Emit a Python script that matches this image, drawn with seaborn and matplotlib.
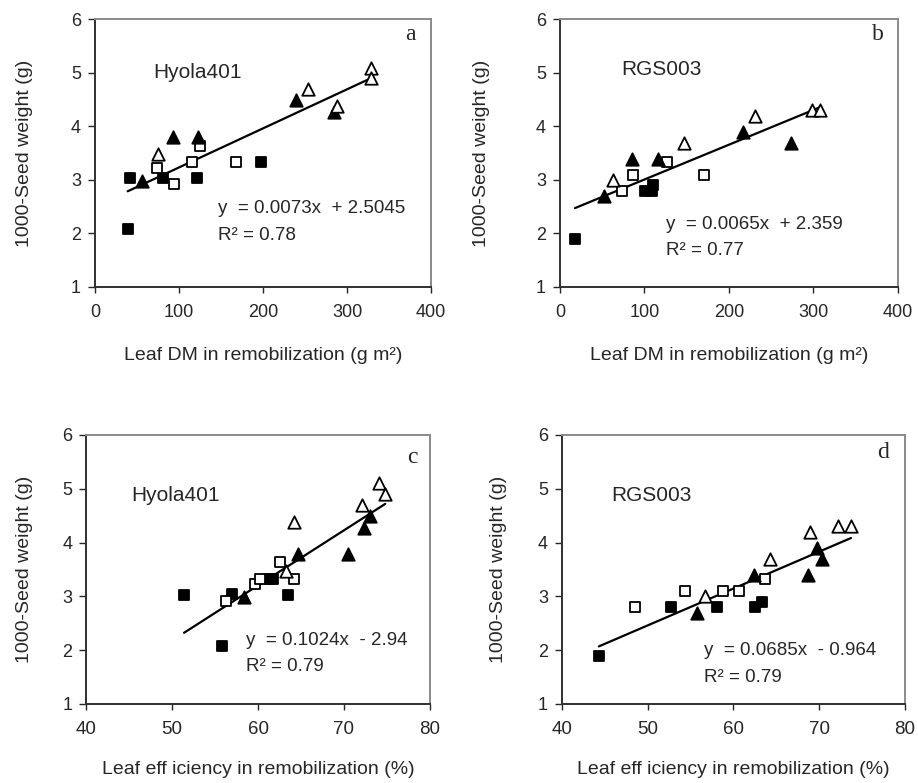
import matplotlib
matplotlib.use('Agg')
import matplotlib.pyplot as plt
import seaborn as sns
import pandas as pd

# point kinds: fs = filled square, os = open square, ft = filled triangle, ot = open triangle
# panel a: Hyola401, leaf DM in remobilization
a_x = [38.9, 41.7, 81.3, 122, 197.6,
       74.2, 94.4, 115, 125, 167.5,
       55.6, 93.3, 123, 239, 284.5,
       75.4, 254, 288, 328, 328.6]
a_y = [2.08, 3.03, 3.03, 3.03, 3.33,
       3.23, 2.92, 3.33, 3.63, 3.33,
       2.98, 3.8, 3.8, 4.5, 4.28,
       3.49, 4.7, 4.39, 5.1, 4.9]
a_kind = ['fs'] * 5 + ['os'] * 5 + ['ft'] * 5 + ['ot'] * 5

# panel b: RGS003, leaf DM in remobilization
b_x = [17.8, 100.6, 108.5, 109.7,
       73.8, 86, 127, 170.8,
       52, 84.8, 116.4, 217, 273,
       62.3, 147, 231, 298, 307.7]
b_y = [1.9, 2.8, 2.8, 2.9,
       2.8, 3.1, 3.33, 3.1,
       2.7, 3.4, 3.4, 3.9, 3.7,
       3.0, 3.7, 4.2, 4.3, 4.3]
b_kind = ['fs'] * 4 + ['os'] * 4 + ['ft'] * 5 + ['ot'] * 5

# panel c: Hyola401, leaf efficiency in remobilization
c_x = [51.4, 57.0, 55.8, 61.3, 61.8, 63.5,
       56.3, 59.7, 60.2, 62.6, 64.2,
       58.4, 64.7, 70.5, 72.3, 73.0,
       64.2, 63.3, 72.1, 74.1, 74.8]
c_y = [3.03, 3.04, 2.08, 3.33, 3.33, 3.03,
       2.91, 3.23, 3.33, 3.63, 3.33,
       2.99, 3.78, 3.78, 4.28, 4.5,
       4.39, 3.47, 4.69, 5.1, 4.9]
c_kind = ['fs'] * 6 + ['os'] * 5 + ['ft'] * 5 + ['ot'] * 5

# panel d: RGS003, leaf efficiency in remobilization
d_x = [44.3, 52.7, 58.1, 62.5, 63.3,
       48.5, 54.3, 58.8, 60.7, 63.7,
       55.7, 62.4, 68.7, 69.7, 70.3,
       56.7, 64.3, 68.9, 72.2, 73.7]
d_y = [1.9, 2.8, 2.8, 2.8, 2.9,
       2.8, 3.1, 3.1, 3.1, 3.33,
       2.7, 3.4, 3.4, 3.9, 3.7,
       3.0, 3.7, 4.2, 4.3, 4.3]
d_kind = ['fs'] * 5 + ['os'] * 5 + ['ft'] * 5 + ['ot'] * 5

# fitted lines as printed on the chart
slopes = [0.0073, 0.0065, 0.1024, 0.0685]
intercepts = [2.5045, 2.359, -2.94, -0.964]
equations = ['y  = 0.0073x  + 2.5045', 'y  = 0.0065x  + 2.359',
             'y  = 0.1024x  - 2.94', 'y  = 0.0685x  - 0.964']
r2_labels = ['R² = 0.78', 'R² = 0.77', 'R² = 0.79', 'R² = 0.79']
cultivars = ['Hyola401', 'RGS003', 'Hyola401', 'RGS003']
letters = ['a', 'b', 'c', 'd']
dm_ticks = [0, 100, 200, 300, 400]
eff_ticks = [40, 50, 60, 70, 80]
y_ticks = [1, 2, 3, 4, 5, 6]

sns.set_style('ticks')
plt.rcParams['font.family'] = ['Liberation Sans', 'DejaVu Sans']

styles = {'fs': ('s', 'black', 55), 'os': ('s', 'white', 55),
          'ft': ('^', 'black', 80), 'ot': ('^', 'white', 80)}

fig = plt.figure(figsize=(9.18, 7.83), dpi=100)
rects = [[0.1035, 0.6335, 0.366, 0.3416], [0.610, 0.6335, 0.368, 0.3416],
         [0.0937, 0.1009, 0.3747, 0.3436], [0.6122, 0.1009, 0.3736, 0.3436]]
panels = [(a_x, a_y, a_kind), (b_x, b_y, b_kind), (c_x, c_y, c_kind), (d_x, d_y, d_kind)]
txt_pos = [((69, 5.0), (146.8, 2.47), (146.8, 1.97)),
           ((73, 5.06), (126, 2.16), (126, 1.69)),
           ((45.3, 4.87), (58.6, 2.18), (58.6, 1.69)),
           ((45.8, 4.87), (56.6, 1.99), (56.6, 1.5))]
letter_pos = [(0.94, 0.944), (0.94, 0.944), (0.95, 0.918), (0.936, 0.933)]
ylabel_pads = [27, 33, 21, 22]

for i, (xs, ys, kinds) in enumerate(panels):
    ax = fig.add_axes(rects[i])
    df = pd.DataFrame({'x': xs, 'y': ys, 'kind': kinds})
    for k, (mk, face, size) in styles.items():
        sub = df[df['kind'] == k]
        sns.scatterplot(data=sub, x='x', y='y', marker=mk, color=face, edgecolor='black',
                        s=size, linewidth=1.3, ax=ax, zorder=3)
    x0, x1 = min(xs), max(xs)
    ax.plot([x0, x1], [slopes[i] * x0 + intercepts[i], slopes[i] * x1 + intercepts[i]],
            color='black', lw=1.6, zorder=2)

    ax.set_ylim(1, 6)
    ax.set_yticks(y_ticks)
    ax.set_ylabel('1000-Seed weight (g)', fontsize=14, labelpad=ylabel_pads[i])
    ax.tick_params(axis='y', labelsize=13, length=5, width=1, pad=5)
    if i < 2:
        ax.set_xlim(0, 400)
        ax.set_xticks(dm_ticks)
        ax.set_xlabel('Leaf DM in remobilization (g m²)', fontsize=14, labelpad=19)
        ax.tick_params(axis='x', labelsize=13, length=4, width=1, pad=8)
    else:
        ax.set_xlim(40, 80)
        ax.set_xticks(eff_ticks)
        ax.set_xlabel('Leaf eff iciency in remobilization (%)', fontsize=14, labelpad=17)
        ax.tick_params(axis='x', labelsize=13.5, length=4, width=1, pad=8)

    for side in ['left', 'bottom']:
        ax.spines[side].set_color('#303030')
        ax.spines[side].set_linewidth(1.4)
    for side in ['top', 'right']:
        ax.spines[side].set_visible(True)
        ax.spines[side].set_color('#8a8a8a')
        ax.spines[side].set_linewidth(1.4)

    (nx, ny), (ex, ey), (rx, ry) = txt_pos[i]
    ax.text(nx, ny, cultivars[i], fontsize=15, ha='left', va='center')
    ax.text(ex, ey, equations[i], fontsize=13.5, ha='left', va='center')
    ax.text(rx, ry, r2_labels[i], fontsize=13.5, ha='left', va='center')
    lx, ly = letter_pos[i]
    ax.text(lx, ly, letters[i], transform=ax.transAxes, fontsize=17,
            family=['Liberation Serif', 'DejaVu Serif'], ha='center', va='center')

fig.savefig('out.png', dpi=100)
